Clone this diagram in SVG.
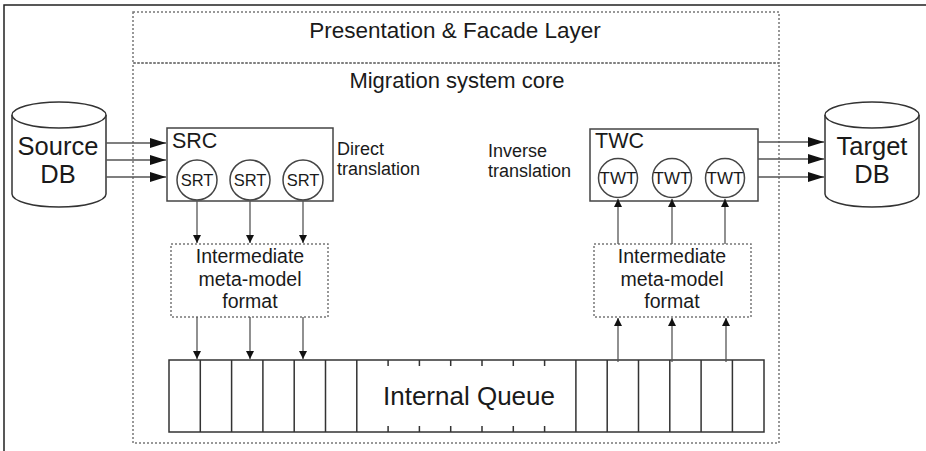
<svg xmlns="http://www.w3.org/2000/svg" width="926" height="451" viewBox="0 0 926 451">
<style>
  text { font-family: "Liberation Sans", Arial, sans-serif; fill: #1a1a1a; }
  .dot { fill: none; stroke: #777; stroke-width: 1.5; stroke-dasharray: 2 2; }
  .box { fill: #fff; stroke: #444; stroke-width: 1.5; }
  .cyl { fill: #fff; stroke: #333; stroke-width: 1.5; }
  .ln { fill: none; stroke: #555; stroke-width: 1.3; }
  .q { fill: none; stroke: #333; stroke-width: 1.5; }
  .big { font-size: 25.5px; }
  .lbl { font-size: 18px; }
  .imm { font-size: 19.5px; }
  .mid { text-anchor: middle; }
</style>
<defs>
  <marker id="ah" viewBox="0 0 16 10" refX="16" refY="5" markerWidth="16" markerHeight="10" markerUnits="userSpaceOnUse" orient="auto">
    <path d="M0,0 L16,5 L0,10 Z" fill="#111"/>
  </marker>
  <marker id="as" viewBox="0 0 8 8" refX="8" refY="4" markerWidth="9" markerHeight="8" markerUnits="userSpaceOnUse" orient="auto">
    <path d="M0,0 L8,4 L0,8 Z" fill="#111"/>
  </marker>
</defs>
<rect width="926" height="451" fill="#fff"/>
<path d="M4,451 V5 H926" fill="none" stroke="#222" stroke-width="1.5"/>

<g id="presentation">
  <rect class="dot" x="133" y="12" width="646" height="51"/>
  <text class="mid" x="455" y="38" font-size="22.5">Presentation &amp; Facade Layer</text>
</g>
<g id="core">
  <rect class="dot" x="133" y="63" width="646" height="380"/>
  <text class="mid" x="457" y="88" font-size="22">Migration system core</text>
</g>

<g id="source-db">
  <path class="cyl" d="M12,115 V194 A47,13 0 0 0 106,194 V115"/>
  <ellipse class="cyl" cx="59" cy="115" rx="47" ry="13"/>
  <text class="big mid" x="58" y="155">Source</text>
  <text class="big mid" x="58" y="183">DB</text>
</g>
<g id="target-db">
  <path class="cyl" d="M825,115 V194 A47,13 0 0 0 919,194 V115"/>
  <ellipse class="cyl" cx="872" cy="115" rx="47" ry="13"/>
  <text class="big mid" x="872" y="155">Target</text>
  <text class="big mid" x="872" y="183">DB</text>
</g>

<g id="src">
  <rect class="box" x="167" y="128" width="166" height="73"/>
  <text x="172" y="148" font-size="21.5">SRC</text>
  <circle class="box" cx="197" cy="180" r="20"/>
  <circle class="box" cx="250" cy="180" r="20"/>
  <circle class="box" cx="303" cy="180" r="20"/>
  <text class="mid" x="197" y="186" font-size="16.5">SRT</text>
  <text class="mid" x="250" y="186" font-size="16.5">SRT</text>
  <text class="mid" x="303" y="186" font-size="16.5">SRT</text>
</g>
<g id="twc">
  <rect class="box" x="590" y="129" width="168" height="72"/>
  <text x="595" y="148" font-size="21.5">TWC</text>
  <circle class="box" cx="618" cy="178" r="19.5"/>
  <circle class="box" cx="672" cy="178" r="19.5"/>
  <circle class="box" cx="725" cy="178" r="19.5"/>
  <text class="mid" x="618" y="184" font-size="17">TWT</text>
  <text class="mid" x="672" y="184" font-size="17">TWT</text>
  <text class="mid" x="725" y="184" font-size="17">TWT</text>
</g>

<g id="direct-label">
  <text class="lbl" x="337" y="155">Direct</text>
  <text class="lbl" x="337" y="175">translation</text>
</g>
<g id="inverse-label">
  <text class="lbl" x="488" y="157">Inverse</text>
  <text class="lbl" x="488" y="177">translation</text>
</g>

<g id="imm-left">
  <rect class="dot" x="171" y="244" width="157" height="73" fill="#fff"/>
  <text class="imm mid" x="250" y="263">Intermediate</text>
  <text class="imm mid" x="250" y="286">meta-model</text>
  <text class="imm mid" x="250" y="308">format</text>
</g>
<g id="imm-right">
  <rect class="dot" x="594" y="244" width="157" height="73" fill="#fff"/>
  <text class="imm mid" x="672" y="263">Intermediate</text>
  <text class="imm mid" x="672" y="286">meta-model</text>
  <text class="imm mid" x="672" y="308">format</text>
</g>

<g id="queue">
  <rect class="q" x="169" y="360" width="595" height="72" fill="#fff"/>
  <path class="q" d="M200.3,360V432M231.6,360V432M262.9,360V432M294.2,360V432M325.5,360V432M356.8,360V432
    M575.9,360V432M607.2,360V432M638.5,360V432M669.8,360V432M701.1,360V432M732.4,360V432
    M388.1,360v6M419.4,360v6M450.7,360v6M482,360v6M513.3,360v6M544.6,360v6
    M388.1,432v-6M419.4,432v-6M450.7,432v-6M482,432v-6M513.3,432v-6M544.6,432v-6"/>
  <text class="mid" x="469" y="405" font-size="26">Internal Queue</text>
</g>

<g id="connectors">
  <line class="ln" x1="106" y1="143" x2="166" y2="143" marker-end="url(#ah)"/>
  <line class="ln" x1="106" y1="160" x2="166" y2="160" marker-end="url(#ah)"/>
  <line class="ln" x1="106" y1="177" x2="166" y2="177" marker-end="url(#ah)"/>
  <line class="ln" x1="758" y1="142" x2="824" y2="142" marker-end="url(#ah)"/>
  <line class="ln" x1="758" y1="159" x2="824" y2="159" marker-end="url(#ah)"/>
  <line class="ln" x1="758" y1="177" x2="824" y2="177" marker-end="url(#ah)"/>

  <line class="ln" x1="197" y1="200" x2="197" y2="243" marker-end="url(#as)"/>
  <line class="ln" x1="250" y1="200" x2="250" y2="243" marker-end="url(#as)"/>
  <line class="ln" x1="303" y1="200" x2="303" y2="243" marker-end="url(#as)"/>
  <line class="ln" x1="197" y1="317" x2="197" y2="359" marker-end="url(#as)"/>
  <line class="ln" x1="250" y1="317" x2="250" y2="359" marker-end="url(#as)"/>
  <line class="ln" x1="303" y1="317" x2="303" y2="359" marker-end="url(#as)"/>

  <line class="ln" x1="618" y1="362" x2="618" y2="318" marker-end="url(#as)"/>
  <line class="ln" x1="672" y1="362" x2="672" y2="318" marker-end="url(#as)"/>
  <line class="ln" x1="726" y1="362" x2="726" y2="318" marker-end="url(#as)"/>
  <line class="ln" x1="618" y1="244" x2="618" y2="199" marker-end="url(#as)"/>
  <line class="ln" x1="672" y1="244" x2="672" y2="199" marker-end="url(#as)"/>
  <line class="ln" x1="725" y1="244" x2="725" y2="199" marker-end="url(#as)"/>
</g>
</svg>
